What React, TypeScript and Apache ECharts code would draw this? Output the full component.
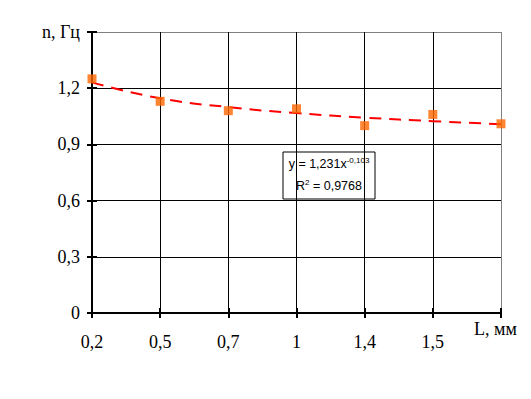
import React, { useEffect, useRef } from "react";
import * as echarts from "echarts";

const categories = ["0,2", "0,5", "0,7", "1", "1,4", "1,5", ""];
const measured = [1.25, 1.13, 1.08, 1.09, 1.0, 1.06, 1.01];
const trend = [1.231, 1.146, 1.099, 1.067, 1.043, 1.024, 1.008];
const yMin = 0;
const yMax = 1.5;
const yStep = 0.3;
const yName = "n, Гц";
const xName = "L, мм";
const eqLine = "y = 1,231x";
const eqExp = "-0,103";
const r2Value = "0,9768";

const SERIF = "'Liberation Serif', 'Times New Roman', serif";
const SANS = "'Liberation Sans', Arial, sans-serif";

export default function App() {
  const ref = useRef<HTMLDivElement>(null);
  useEffect(() => {
    document.body.style.margin = "0";
    const chart = echarts.init(ref.current!, null, { renderer: "svg" });
    const fmtY = (v: number) => {
      if (Math.abs(v - yMax) < 1e-6) return yName;
      if (Math.abs(v) < 1e-6) return "0";
      return v.toFixed(1).replace(".", ",");
    };
    chart.setOption({
      animation: false,
      backgroundColor: "#ffffff",
      grid: { left: 92, right: 30, top: 32, bottom: 86, containLabel: false },
      xAxis: [
        {
          type: "category",
          data: categories,
          boundaryGap: false,
          axisLine: { show: true, lineStyle: { color: "#000", width: 2 } },
          axisTick: { show: true, length: 5, interval: 0, lineStyle: { color: "#000", width: 2 } },
          axisLabel: { interval: 0, margin: 20, color: "#000", fontFamily: SERIF, fontSize: 18 },
          splitLine: {
            show: true,
            interval: 0,
            lineStyle: { color: ["#000", "#000", "#000", "#000", "#000", "#000", "#808080"], width: 1 },
          },
        },
        {
          type: "category",
          data: categories,
          boundaryGap: false,
          position: "bottom",
          axisLine: { show: false },
          axisTick: { show: true, inside: true, length: 5, interval: 0, lineStyle: { color: "#000", width: 2 } },
          axisLabel: { show: false },
          splitLine: { show: false },
        },
      ],
      yAxis: [
        {
          type: "value",
          min: yMin,
          max: yMax,
          interval: yStep,
          axisLine: { show: true, lineStyle: { color: "#000", width: 2 } },
          axisTick: { show: true, length: 5, lineStyle: { color: "#000", width: 2 } },
          axisLabel: { margin: 12, color: "#000", fontFamily: SERIF, fontSize: 18, formatter: fmtY },
          splitLine: {
            show: true,
            lineStyle: { color: ["#000", "#000", "#000", "#000", "#000", "#808080"], width: 1 },
          },
        },
        {
          type: "value",
          min: yMin,
          max: yMax,
          interval: yStep,
          position: "left",
          axisLine: { show: false },
          axisTick: { show: true, inside: true, length: 5, lineStyle: { color: "#000", width: 2 } },
          axisLabel: { show: false },
          splitLine: { show: false },
        },
      ],
      series: [
        {
          type: "line",
          data: trend,
          smooth: true,
          showSymbol: false,
          symbol: "none",
          z: 3,
          lineStyle: { color: "#FF0000", width: 2, type: [12, 8] },
        },
        {
          type: "scatter",
          data: measured,
          symbol: "rect",
          symbolSize: 9,
          z: 4,
          itemStyle: { color: "#FF6600" },
        },
      ],
      graphic: [
        {
          type: "group",
          z: 10,
          children: [
            {
              type: "rect",
              shape: { x: 283, y: 152, width: 92, height: 47 },
              style: { fill: "#fff", stroke: "#000", lineWidth: 1 },
            },
            {
              type: "text",
              x: 329,
              y: 164,
              style: {
                text: eqLine + "{s|" + eqExp + "}",
                align: "center",
                verticalAlign: "middle",
                fontFamily: SANS,
                fontSize: 12.5,
                lineHeight: 16,
                fill: "#000",
                rich: { s: { fontSize: 8, fontFamily: SANS, verticalAlign: "top", lineHeight: 16, fill: "#000" } },
              },
            },
            {
              type: "text",
              x: 329,
              y: 186,
              style: {
                text: "R{s|2} = " + r2Value,
                align: "center",
                verticalAlign: "middle",
                fontFamily: SANS,
                fontSize: 12.5,
                lineHeight: 16,
                fill: "#000",
                rich: { s: { fontSize: 8, fontFamily: SANS, verticalAlign: "top", lineHeight: 16, fill: "#000" } },
              },
            },
          ],
        },
        {
          type: "text",
          left: 474,
          top: 320,
          style: { text: xName, fontFamily: SERIF, fontSize: 18, fill: "#000" },
        },
      ],
    });
    return () => chart.dispose();
  }, []);
  return (
    <div
      ref={ref}
      style={{ position: "fixed", left: 0, top: 0, width: 531, height: 399 }}
    />
  );
}
